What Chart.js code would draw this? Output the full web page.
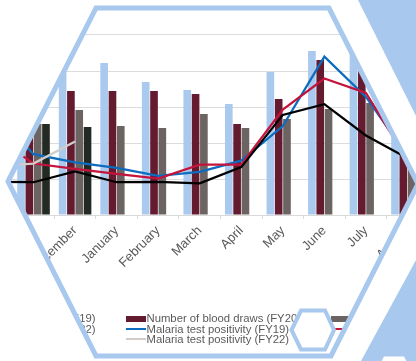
<!DOCTYPE html>
<html>
<head>
<meta charset="utf-8">
<script src="https://cdn.jsdelivr.net/npm/chart.js@4.4.1/dist/chart.umd.min.js"></script>
<style>
  html, body { margin: 0; padding: 0; background: #fff; overflow: hidden; }
  #stage { position: relative; width: 416px; height: 361px; overflow: hidden; background: #fff; }
  #frame {
    position: absolute; left: 0; top: 0; width: 416px; height: 361px; background: #fff;
    clip-path: polygon(8px 181.5px, 96px 8px, 329px 8px, 418px 184px, 331px 356px, 96px 356px);
  }
  #plot { position: absolute; left: -70px; top: -1px; width: 550px; height: 300px; }
  #legend { position: absolute; left: 0; top: 0; width: 416px; height: 361px; }
  .item { position: absolute; height: 10.2px; white-space: nowrap;
          font: 11.3px "Liberation Sans", Arial, sans-serif; line-height: 10.2px; color: #595959; }
  .mark { position: absolute; left: 0; width: 20px; }
  .item span { position: absolute; left: 21px; top: 0; }
  #deco { position: absolute; left: 0; top: 0; }
</style>
</head>
<body>
<div id="stage">
  <div id="frame">
    <div id="plot"><canvas id="c" width="550" height="300"></canvas></div>
    <div id="legend"></div>
  </div>
  <svg id="deco" width="416" height="361" viewBox="0 0 416 361">
    <polygon points="358,0 470,0 470,361 361,361 453.6,191" fill="#a8c8ed"/>
    <polygon points="384,356.5 404,356.5 412,372 376,372" fill="#ffffff"/>
    <polygon points="8,181.5 96,8 329,8 418,184 331,356 96,356" fill="none" stroke="#a8c8ed" stroke-width="5"/>
    <polygon points="291.5,330 301,310.5 325,310.5 334,330 325,349.5 301,349.5" fill="#ffffff" stroke="#a8c8ed" stroke-width="4"/>
  </svg>
</div>
<script>
// Monthly blood draws and malaria test positivity, fiscal years FY19–FY22 (Oct–Sep)
const months = ['October', 'November', 'December', 'January', 'February', 'March',
                'April', 'May', 'June', 'July', 'August', 'September'];

const drawsFY19 = [722, 806, 850, 844, 739, 694, 617, 794, 911, 972, 778, 694];
const drawsFY20 = [639, 667, 689, 689, 689, 672, 506, 644, 861, 817, 556, 528];
const drawsFY21 = [500, 506, 583, 494, 483, 561, 483, 533, 589, 622, 444, 417];
const drawsFY22 = [528, 505, 489, null, null, null, null, null, null, null, null, null];

const positivityFY19 = [29.4, 16.9, 14.6, 13.1, 10.9, 12.0, 15.1, 24.7, 44.0, 32.8, 16.4, 12.5];
const positivityFY20 = [22.2, 14.3, 12.8, 11.4, 10.1, 14.0, 14.0, 29.3, 37.9, 33.9, 15.3, 11.9];
const positivityFY21 = [9.2, 9.1, 12.1, 9.1, 9.2, 8.8, 13.3, 27.8, 30.8, 22.1, 15.8, 11.9];
const positivityFY22 = [13.6, 14.3, 20.4, null, null, null, null, null, null, null, null, null];

const drawsAxis = { min: 0, max: 1200, step: 200 };
const positivityAxis = { min: 0, max: 60 };

const barSeries = [
  { label: 'Number of blood draws (FY19)', data: drawsFY19, color: '#a9c9ef' },
  { label: 'Number of blood draws (FY20)', data: drawsFY20, color: '#641b30' },
  { label: 'Number of blood draws (FY21)', data: drawsFY21, color: '#6c6462' },
  { label: 'Number of blood draws (FY22)', data: drawsFY22, color: '#232a23' }
];
const lineSeries = [
  { label: 'Malaria test positivity (FY19)', data: positivityFY19, color: '#0c6cbf' },
  { label: 'Malaria test positivity (FY20)', data: positivityFY20, color: '#c4143c' },
  { label: 'Malaria test positivity (FY21)', data: positivityFY21, color: '#000000' },
  { label: 'Malaria test positivity (FY22)', data: positivityFY22, color: '#d2cdc9' }
];

const datasets = [];
barSeries.forEach(s => datasets.push({
  type: 'bar', label: s.label, data: s.data, yAxisID: 'y',
  backgroundColor: s.color, borderWidth: 0,
  categoryPercentage: 0.8, barPercentage: 0.92, order: 10
}));
lineSeries.forEach((s, i) => datasets.push({
  type: 'line', label: s.label, data: s.data, yAxisID: 'y1',
  borderColor: s.color, backgroundColor: s.color, borderWidth: 2.25,
  pointRadius: 0, tension: 0, spanGaps: false, fill: false, order: 4 - i
}));

const FONT = '"Liberation Sans", Arial, sans-serif';

new Chart(document.getElementById('c'), {
  data: { labels: months, datasets },
  options: {
    responsive: false,
    animation: false,
    devicePixelRatio: 1,
    layout: { padding: { left: 41.2, right: 10.2, top: 0, bottom: 0 } },
    plugins: { legend: { display: false }, tooltip: { enabled: false } },
    scales: {
      x: {
        offset: true,
        grid: { offset: true, drawOnChartArea: false, drawTicks: true, tickLength: 4, color: '#d9d9d9' },
        border: { display: true, color: '#d9d9d9', width: 1 },
        ticks: { minRotation: 45, maxRotation: 45, autoSkip: false, padding: 4,
                 color: '#595959', font: { family: FONT, size: 13 } },
        afterFit: s => { s.height = 84; s.paddingLeft = 0; s.paddingRight = 0; }
      },
      y: {
        position: 'left',
        min: drawsAxis.min, max: drawsAxis.max,
        ticks: { display: false, stepSize: drawsAxis.step },
        grid: { color: '#dcdcdc', drawTicks: false },
        border: { display: false },
        afterFit: s => { s.width = 0; s.paddingTop = 0; s.paddingBottom = 0; }
      },
      y1: {
        position: 'right', display: false,
        min: positivityAxis.min, max: positivityAxis.max,
        grid: { drawOnChartArea: false }
      }
    }
  }
});

// Three-column legend below the plot
const legend = document.getElementById('legend');
const legendItems = [
  ...barSeries.map(s => ({ ...s, kind: 'bar' })),
  ...lineSeries.map(s => ({ ...s, kind: 'line' }))
];
legendItems.forEach((s, i) => {
  const col = i % 3, row = Math.floor(i / 3);
  const el = document.createElement('div');
  el.className = 'item';
  el.style.left = (-80 + col * 205.5) + 'px';
  el.style.top = (313.3 + row * 10.2) + 'px';
  const m = document.createElement('div');
  m.className = 'mark';
  if (s.kind === 'bar') { m.style.top = '2.7px'; m.style.height = '5.6px'; }
  else { m.style.top = '4px'; m.style.height = '2px'; }
  m.style.background = s.color;
  const t = document.createElement('span');
  t.textContent = s.label;
  el.appendChild(m); el.appendChild(t);
  legend.appendChild(el);
});
</script>
</body>
</html>
